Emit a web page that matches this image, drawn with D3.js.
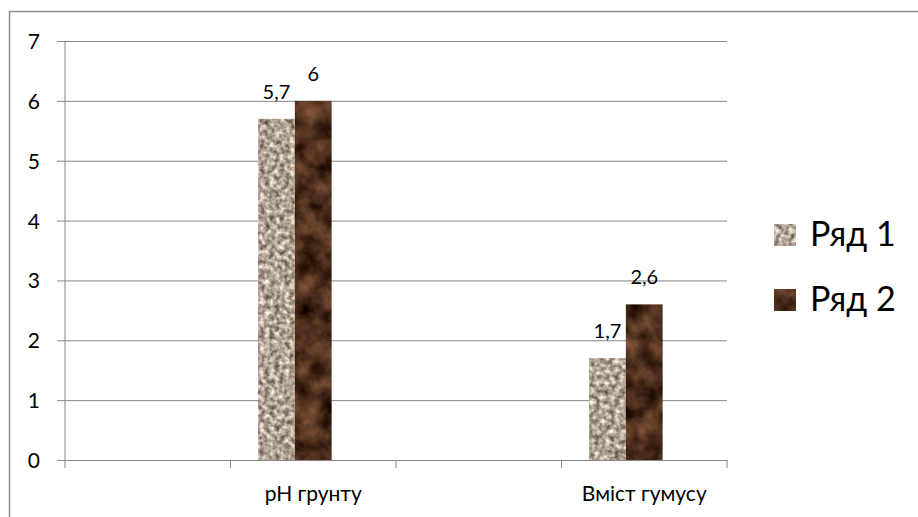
<html>
<head>
    <script src="https://d3js.org/d3.v7.min.js"></script>
    <style>
        body { margin: 0; background: white; }
        text { font-family: Lato, "Noto Sans", sans-serif; fill: #000; }
    </style>
</head>
<body>
<script>
    // data
    var categories = ["", "pH грунту", "", "Вміст гумусу"];
    var seriesNames = ["Ряд 1", "Ряд 2"];
    var series1 = [null, 5.7, null, 1.7];
    var series2 = [null, 6, null, 2.6];
    var yTicks = [0, 1, 2, 3, 4, 5, 6, 7];

    var width = 918, height = 517;
    var plotLeft = 65, plotRight = 727, plotTop = 41, plotBottom = 460;

    var svg = d3.select("body").append("svg")
        .attr("width", width).attr("height", height);

    // textures (granite for series 1, brown marble for series 2)
    var defs = svg.append("defs");
    function texture(id, type, freq, oct, seed, matrix) {
        var f = defs.append("filter").attr("id", id)
            .attr("x", 0).attr("y", 0).attr("width", 1).attr("height", 1)
            .attr("color-interpolation-filters", "sRGB");
        f.append("feTurbulence").attr("type", type).attr("baseFrequency", freq)
            .attr("numOctaves", oct).attr("seed", seed).attr("result", "n");
        f.append("feColorMatrix").attr("in", "n").attr("type", "matrix")
            .attr("values", matrix).attr("result", "c");
        f.append("feComposite").attr("in", "c").attr("in2", "SourceGraphic").attr("operator", "in");
    }
    texture("tex1", "fractalNoise", 0.2, 2, 3,
        "1.0 0 0 0 0.19  1.0 0 0 0 0.14  1.0 0 0 0 0.08  0 0 0 0 1");
    texture("tex2", "fractalNoise", 0.05, 4, 7,
        "0.62 0 0 0 -0.01  0.46 0 0 0 -0.05  0.36 0 0 0 -0.07  0 0 0 0 1");
    var filters = ["url(#tex1)", "url(#tex2)"];

    // chart border
    svg.append("rect").attr("x", 9.5).attr("y", 11.5)
        .attr("width", 940).attr("height", 540)
        .attr("fill", "none").attr("stroke", "#8c8c8c").attr("stroke-width", 1.5);

    var x = d3.scaleBand().domain(d3.range(categories.length)).range([plotLeft, plotRight]);
    var xInner = d3.scaleBand().domain([0, 1, 2]).range([0, x.bandwidth()])
        .paddingInner(0).paddingOuter(0.75);
    var y = d3.scaleLinear().domain([0, 7]).range([plotBottom, plotTop]);

    // gridlines + y ticks
    var yAxis = d3.axisLeft(y).tickValues(yTicks).tickSize(-(plotRight - plotLeft))
        .tickPadding(25).tickFormat(d3.format("d"));
    var gy = svg.append("g").attr("transform", "translate(" + plotLeft + ",0)").call(yAxis);
    gy.select(".domain").remove();
    gy.selectAll(".tick line").attr("stroke", "#868686").attr("x1", -8);
    gy.selectAll(".tick text").style("font-size", "21px").attr("dy", "0.36em");

    // y axis line
    svg.append("line").attr("x1", plotLeft).attr("x2", plotLeft)
        .attr("y1", plotTop).attr("y2", plotBottom).attr("stroke", "#868686");

    // bars
    var seriesData = [series1, series2];
    seriesData.forEach(function(vals, s) {
        var rows = vals.map(function(v, i) { return {i: i, v: v}; })
            .filter(function(d) { return d.v != null; });
        var g = svg.append("g");
        g.selectAll("rect").data(rows).enter().append("rect")
            .attr("x", function(d) { return x(d.i) + xInner(s); })
            .attr("width", xInner.bandwidth())
            .attr("y", function(d) { return y(d.v); })
            .attr("height", function(d) { return y(0) - y(d.v); })
            .attr("fill", "#000")
            .attr("filter", filters[s]);
        g.selectAll("text").data(rows).enter().append("text")
            .attr("x", function(d) { return x(d.i) + xInner(s) + xInner.bandwidth() / 2; })
            .attr("y", function(d) { return y(d.v) - 20; })
            .attr("text-anchor", "middle")
            .style("font-size", "20px")
            .text(function(d) { return String(d.v).replace(".", ","); });
    });

    // x axis
    var xAxis = d3.axisBottom(x).tickSize(0)
        .tickFormat(function(i) { return categories[i]; });
    var gx = svg.append("g").attr("transform", "translate(0," + plotBottom + ")").call(xAxis);
    gx.select(".domain").attr("stroke", "#868686");
    gx.selectAll(".tick text").style("font-size", "21px").attr("y", 41).attr("dy", null);
    var bounds = x.domain().map(function(i) { return x(i); }).concat([plotRight]);
    gx.selectAll(".bound").data(bounds).enter().append("line")
        .attr("x1", function(d) { return d; }).attr("x2", function(d) { return d; })
        .attr("y1", 0).attr("y2", 8).attr("stroke", "#868686");

    // legend
    var legend = svg.append("g").selectAll("g").data(seriesNames).enter().append("g")
        .attr("transform", function(d, i) { return "translate(774," + (224 + i * 65) + ")"; });
    legend.append("rect").attr("width", 22).attr("height", 22)
        .attr("fill", "#000").attr("filter", function(d, i) { return filters[i]; });
    legend.append("text").attr("x", 36).attr("y", 22)
        .style("font-size", "34px").text(function(d) { return d; });
</script>
</body>
</html>
